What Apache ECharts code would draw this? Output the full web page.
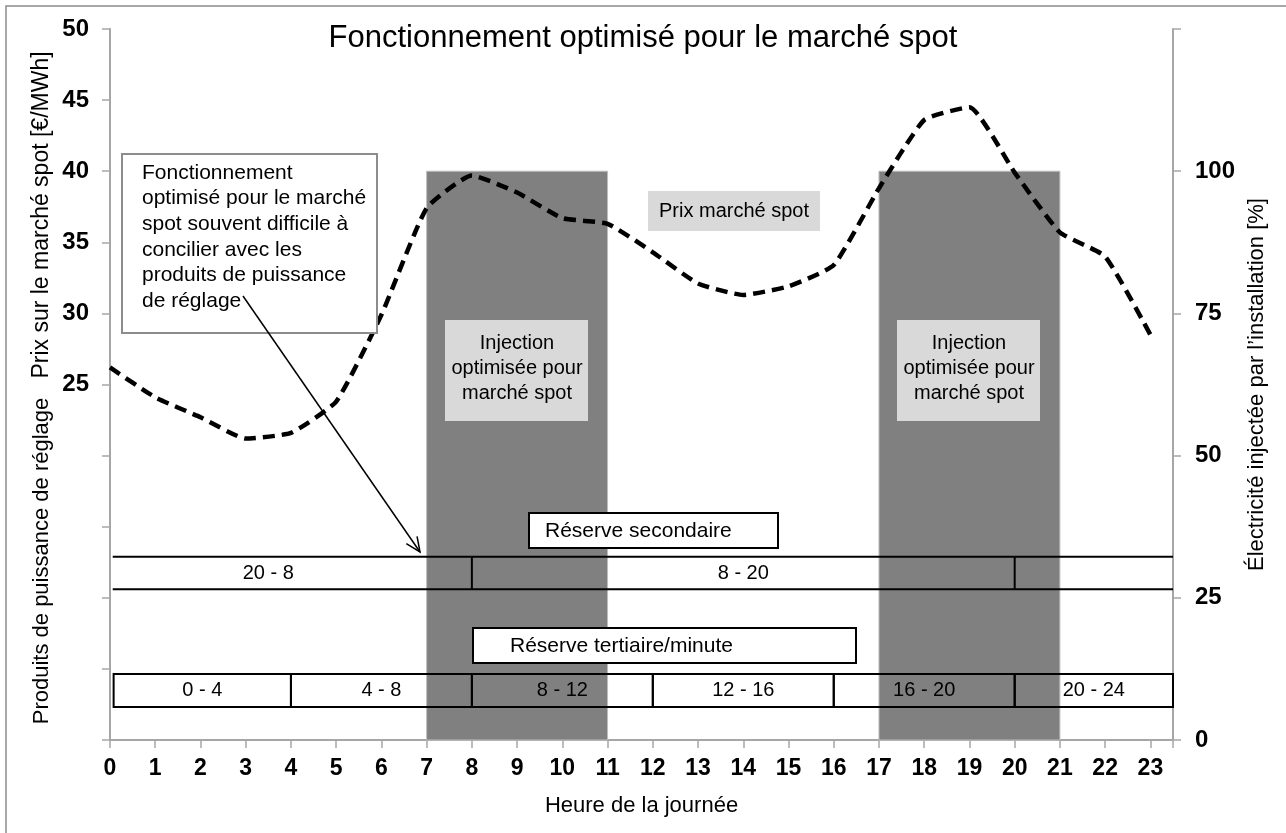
<!DOCTYPE html>
<html lang="fr">
<head>
<meta charset="UTF-8">
<title>Fonctionnement optimisé pour le marché spot</title>
<style>
    html, body { margin: 0; padding: 0; background: #fff; }
    #chart { width: 1286px; height: 833px; }
</style>
</head>
<body>
<div id="chart"></div>
<script src="https://cdn.jsdelivr.net/npm/echarts@6/dist/echarts.min.js"></script>
<script>
    // prix spot horaire [€/MWh]
    var hours = [0,1,2,3,4,5,6,7,8,9,10,11,12,13,14,15,16,17,18,19,20,21,22,23];
    var spotPrice = [26.2,24.1,22.7,21.2,21.6,23.8,29.9,37.4,39.7,38.5,36.7,36.3,34.3,32.1,31.3,31.9,33.4,38.8,43.6,44.5,39.9,35.7,34.0,28.5];

    // injection optimisée (axe de droite, %)
    var injectionStart = [7, 17];
    var injectionEnd = [11, 21];
    var injectionLevel = [100, 100];

    // réserve secondaire : blocs 20-8 / 8-20
    var secondaryStart = [0.06, 8, 20];
    var secondaryEnd = [8, 20, 23.5];
    var secondaryLabels = ['20 - 8', '8 - 20'];
    var secondaryLabelHour = [3.5, 14];

    // réserve tertiaire/minute : blocs de 4 h
    var tertiaryStart = [0.08, 4, 8, 12, 16, 20];
    var tertiaryEnd = [4, 8, 12, 16, 20, 23.5];
    var tertiaryLabels = ['0 - 4', '4 - 8', '8 - 12', '12 - 16', '16 - 20', '20 - 24'];

    var leftTicks = [25, 30, 35, 40, 45, 50];
    var rightTicks = [0, 25, 50, 75, 100];

    var FONT = 'Liberation Sans, Arial, sans-serif';
    var secBand = [26.5, 32.2];
    var terBand = [5.8, 11.6];

    var chart = echarts.init(document.getElementById('chart'));

    var priceData = hours.map(function (h, i) { return [h, spotPrice[i]]; });
    var injData = injectionStart.map(function (s, i) { return [s, injectionEnd[i], injectionLevel[i]]; });
    var secData = secondaryStart.map(function (s, i) { return [s, secondaryEnd[i]]; });
    var terData = tertiaryStart.map(function (s, i) { return [s, tertiaryEnd[i]]; });

    function arrowHead(x1, y1, x2, y2, len, ang) {
        var a = Math.atan2(y1 - y2, x1 - x2);
        return [
            [x2 + len * Math.cos(a + ang), y2 + len * Math.sin(a + ang)],
            [x2, y2],
            [x2 + len * Math.cos(a - ang), y2 + len * Math.sin(a - ang)]
        ];
    }

    var option = {
        backgroundColor: '#fff',
        animation: false,
        title: {
            text: 'Fonctionnement optimisé pour le marché spot',
            left: 'center',
            top: 18,
            textStyle: { fontFamily: FONT, fontSize: 31, fontWeight: 'normal', color: '#000' }
        },
        grid: { left: 110, right: 113, top: 29, bottom: 93 },
        xAxis: {
            type: 'value',
            min: 0,
            max: 23.5,
            interval: 1,
            name: 'Heure de la journée',
            nameLocation: 'middle',
            nameGap: 55,
            nameTextStyle: { fontFamily: FONT, fontSize: 22, color: '#000' },
            splitLine: { show: false },
            axisLine: { lineStyle: { color: '#a6a6a6', width: 2 } },
            axisTick: { length: 8, lineStyle: { color: '#a6a6a6', width: 1.5 } },
            axisLabel: {
                margin: 17,
                fontFamily: FONT, fontSize: 23, fontWeight: 'bold', color: '#000',
                formatter: function (v) { return hours.indexOf(v) >= 0 ? String(v) : ''; }
            }
        },
        yAxis: [{
            type: 'value',
            min: 0,
            max: 50,
            interval: 5,
            position: 'left',
            splitLine: { show: false },
            axisLine: { show: true, lineStyle: { color: '#a6a6a6', width: 2 } },
            axisTick: { show: true, length: 8, lineStyle: { color: '#a6a6a6', width: 1.5 } },
            axisLabel: {
                margin: 21,
                fontFamily: FONT, fontSize: 24, fontWeight: 'bold', color: '#000',
                formatter: function (v) { return leftTicks.indexOf(v) >= 0 ? String(v) : ''; }
            }
        }, {
            type: 'value',
            min: 0,
            max: 125,
            interval: 25,
            position: 'right',
            name: 'Électricité injectée par l\u2019installation [%]',
            nameLocation: 'middle',
            nameRotate: 90,
            nameGap: 64,
            nameTextStyle: { fontFamily: FONT, fontSize: 22, color: '#000' },
            splitLine: { show: false },
            axisLine: { show: true, lineStyle: { color: '#a6a6a6', width: 2 } },
            axisTick: { show: true, length: 8, lineStyle: { color: '#a6a6a6', width: 1.5 } },
            axisLabel: {
                margin: 22,
                fontFamily: FONT, fontSize: 24, fontWeight: 'bold', color: '#000',
                formatter: function (v) { return rightTicks.indexOf(v) >= 0 ? String(v) : ''; }
            }
        }],
        series: [{
            name: 'Injection optimisée',
            type: 'custom',
            yAxisIndex: 1,
            z: 1,
            data: injData,
            renderItem: function (params, api) {
                var p0 = api.coord([api.value(0), api.value(2)]);
                var p1 = api.coord([api.value(1), 0]);
                return {
                    type: 'rect',
                    shape: { x: p0[0], y: p0[1], width: p1[0] - p0[0], height: p1[1] - p0[1] },
                    style: { fill: '#808080', stroke: '#bdbdbd', lineWidth: 1 }
                };
            }
        }, {
            name: 'Prix marché spot',
            type: 'line',
            z: 3,
            data: priceData,
            smooth: 0.15,
            symbol: 'none',
            lineStyle: { color: '#000', width: 4.5, type: [12, 7] }
        }, {
            name: 'Réserve secondaire',
            type: 'custom',
            yAxisIndex: 1,
            z: 4,
            data: secData,
            renderItem: function (params, api) {
                var s = api.value(0), e = api.value(1);
                var a = api.coord([s, secBand[1]]);
                var b = api.coord([e, secBand[0]]);
                var st = { stroke: '#000', lineWidth: 2 };
                var children = [
                    { type: 'line', shape: { x1: a[0], y1: a[1], x2: b[0], y2: a[1] }, style: st },
                    { type: 'line', shape: { x1: a[0], y1: b[1], x2: b[0], y2: b[1] }, style: st }
                ];
                if (params.dataIndex > 0) {
                    children.push({ type: 'line', shape: { x1: a[0], y1: a[1], x2: a[0], y2: b[1] }, style: st });
                }
                var lbl = secondaryLabels[params.dataIndex];
                if (lbl) {
                    var c = api.coord([secondaryLabelHour[params.dataIndex], (secBand[0] + secBand[1]) / 2]);
                    children.push({
                        type: 'text',
                        style: { x: c[0], y: c[1], text: lbl, align: 'center', verticalAlign: 'middle',
                            fontFamily: FONT, fontSize: 20, fill: '#000' }
                    });
                }
                return { type: 'group', children: children };
            }
        }, {
            name: 'Réserve tertiaire/minute',
            type: 'custom',
            yAxisIndex: 1,
            z: 4,
            data: terData,
            renderItem: function (params, api) {
                var a = api.coord([api.value(0), terBand[1]]);
                var b = api.coord([api.value(1), terBand[0]]);
                var c = api.coord([(api.value(0) + api.value(1)) / 2, (terBand[0] + terBand[1]) / 2]);
                return {
                    type: 'group',
                    children: [{
                        type: 'rect',
                        shape: { x: a[0], y: a[1], width: b[0] - a[0], height: b[1] - a[1] },
                        style: { fill: 'none', stroke: '#000', lineWidth: 2 }
                    }, {
                        type: 'text',
                        style: { x: c[0], y: c[1], text: tertiaryLabels[params.dataIndex], align: 'center',
                            verticalAlign: 'middle', fontFamily: FONT, fontSize: 20, fill: '#000' }
                    }]
                };
            }
        }],
        graphic: [
            // cadre (haut + gauche)
            { type: 'polyline', z: 100, shape: { points: [[6, 833], [6, 6], [1286, 6]] },
              style: { stroke: '#8c8c8c', lineWidth: 1.5, fill: 'none' } },
            // noms de l'axe de gauche
            { type: 'text', z: 100, x: 42, y: 215, rotation: Math.PI / 2,
              style: { text: 'Prix sur le marché spot [€/MWh]', align: 'center', verticalAlign: 'middle',
                       fontFamily: FONT, fontSize: 23, fill: '#000' } },
            { type: 'text', z: 100, x: 42, y: 561, rotation: Math.PI / 2,
              style: { text: 'Produits de puissance de réglage', align: 'center', verticalAlign: 'middle',
                       fontFamily: FONT, fontSize: 22, fill: '#000' } },
            // encadré explicatif
            { type: 'rect', z: 100, shape: { x: 122, y: 154, width: 255, height: 179 },
              style: { fill: '#fff', stroke: '#8c8c8c', lineWidth: 2 } },
            { type: 'text', z: 101, x: 142, y: 160,
              style: { text: 'Fonctionnement\noptimisé pour le marché\nspot souvent difficile à\nconcilier avec les\nproduits de puissance\nde réglage',
                       fontFamily: FONT, fontSize: 21, lineHeight: 25.7, fill: '#000' } },
            { type: 'line', z: 102, shape: { x1: 243, y1: 296, x2: 420, y2: 552 },
              style: { stroke: '#000', lineWidth: 1.5 } },
            { type: 'polyline', z: 102, shape: { points: arrowHead(243, 296, 420, 552, 16, 0.42) },
              style: { stroke: '#000', lineWidth: 1.5, fill: 'none' } },
            // étiquettes grises
            { type: 'rect', z: 100, shape: { x: 648, y: 191, width: 172, height: 40 },
              style: { fill: '#d9d9d9' } },
            { type: 'text', z: 101, x: 734, y: 211,
              style: { text: 'Prix marché spot', align: 'center', verticalAlign: 'middle',
                       fontFamily: FONT, fontSize: 20, fill: '#000' } },
            { type: 'rect', z: 100, shape: { x: 445, y: 320, width: 143, height: 101 },
              style: { fill: '#d9d9d9' } },
            { type: 'text', z: 101, x: 517, y: 368,
              style: { text: 'Injection\noptimisée pour\nmarché spot', align: 'center', verticalAlign: 'middle',
                       fontFamily: FONT, fontSize: 20, lineHeight: 25, fill: '#000' } },
            { type: 'rect', z: 100, shape: { x: 897, y: 320, width: 143, height: 101 },
              style: { fill: '#d9d9d9' } },
            { type: 'text', z: 101, x: 969, y: 368,
              style: { text: 'Injection\noptimisée pour\nmarché spot', align: 'center', verticalAlign: 'middle',
                       fontFamily: FONT, fontSize: 20, lineHeight: 25, fill: '#000' } },
            // titres des réserves
            { type: 'rect', z: 100, shape: { x: 529, y: 513, width: 249, height: 35 },
              style: { fill: '#fff', stroke: '#000', lineWidth: 2 } },
            { type: 'text', z: 101, x: 545, y: 531,
              style: { text: 'Réserve secondaire', verticalAlign: 'middle',
                       fontFamily: FONT, fontSize: 21, fill: '#000' } },
            { type: 'rect', z: 100, shape: { x: 473, y: 628, width: 383, height: 35 },
              style: { fill: '#fff', stroke: '#000', lineWidth: 2 } },
            { type: 'text', z: 101, x: 510, y: 646,
              style: { text: 'Réserve tertiaire/minute', verticalAlign: 'middle',
                       fontFamily: FONT, fontSize: 21, fill: '#000' } }
        ]
    };

    chart.setOption(option);
</script>
</body>
</html>
